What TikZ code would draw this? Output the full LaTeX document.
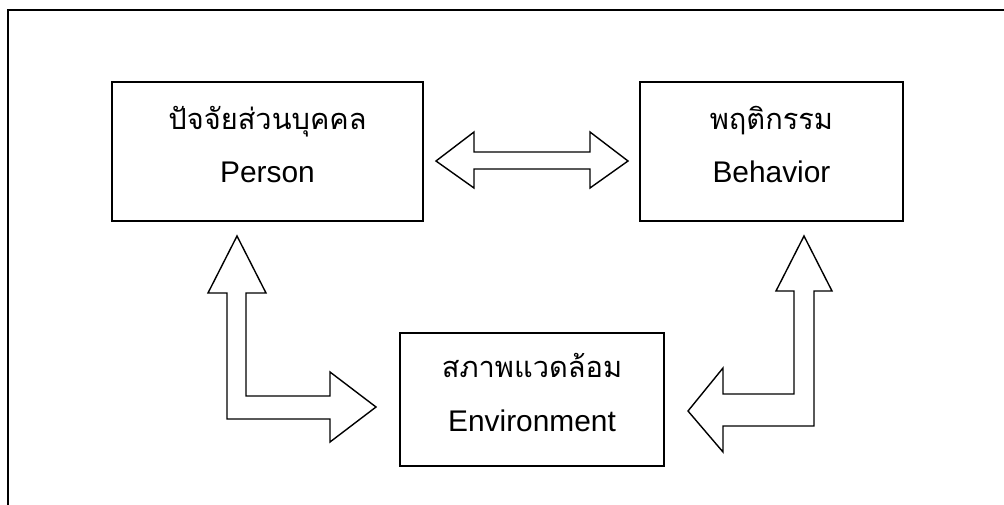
\documentclass[tikz,border=0pt]{standalone}
\usepackage{fontspec}
\setmainfont{Liberation Sans}
\newfontfamily\thaifont[Script=Thai]{Loma}
\usetikzlibrary{positioning, calc}

\definecolor{frameblack}{RGB}{0, 0, 0}

\tikzset{
  factorbox/.style={draw=frameblack, line width=1pt, align=center, inner sep=0pt,
    text depth=8pt, font=\fontsize{17}{30.5}\selectfont},
  blockarrow/.style={draw=frameblack, line width=0.8pt, line join=miter, fill=white}
}

\begin{document}
\begin{tikzpicture}
  \useasboundingbox (0, 0) rectangle (20.08, -10.1);

  % Frame
  \draw[line width=1.1pt] (20.08, -0.2) -- (0.16, -0.2) -- (0.16, -10.1);

  % Factors
  \node[factorbox, minimum width=6.22cm, minimum height=2.78cm] (person) at (5.35, -3.03) {
    {\thaifont\fontsize{16.5}{30.5}\selectfont ปัจจัยส่วนบุคคล}\\
    Person
  };
  \node[factorbox, minimum width=5.26cm, minimum height=2.78cm] (behavior) at (15.43, -3.03) {
    {\thaifont\fontsize{16.5}{30.5}\selectfont พฤติกรรม}\\
    Behavior
  };
  \node[factorbox, minimum width=5.28cm, minimum height=2.66cm] (env) at (10.64, -7.99) {
    {\thaifont\fontsize{16.5}{30.5}\selectfont สภาพแวดล้อม}\\
    Environment
  };

  % Person <-> Behavior
  \draw[blockarrow] (8.72, -3.22) -- (9.48, -2.64) -- (9.48, -3.04) -- (11.8, -3.04)
    -- (11.8, -2.64) -- (12.56, -3.22) -- (11.8, -3.76) -- (11.8, -3.38)
    -- (9.48, -3.38) -- (9.48, -3.76) -- cycle;

  % Person <-> Environment
  \draw[blockarrow] (4.74, -4.72) -- (5.32, -5.86) -- (4.92, -5.86) -- (4.92, -7.92)
    -- (6.6, -7.92) -- (6.6, -7.44) -- (7.52, -8.14) -- (6.6, -8.84) -- (6.6, -8.38)
    -- (4.54, -8.38) -- (4.54, -5.86) -- (4.16, -5.86) -- cycle;

  % Behavior <-> Environment
  \draw[blockarrow] (16.08, -4.72) -- (16.64, -5.82) -- (16.28, -5.82) -- (16.28, -8.52)
    -- (14.46, -8.52) -- (14.46, -9.04) -- (13.76, -8.22) -- (14.46, -7.36) -- (14.46, -7.88)
    -- (15.88, -7.88) -- (15.88, -5.82) -- (15.52, -5.82) -- cycle;
\end{tikzpicture}
\end{document}
